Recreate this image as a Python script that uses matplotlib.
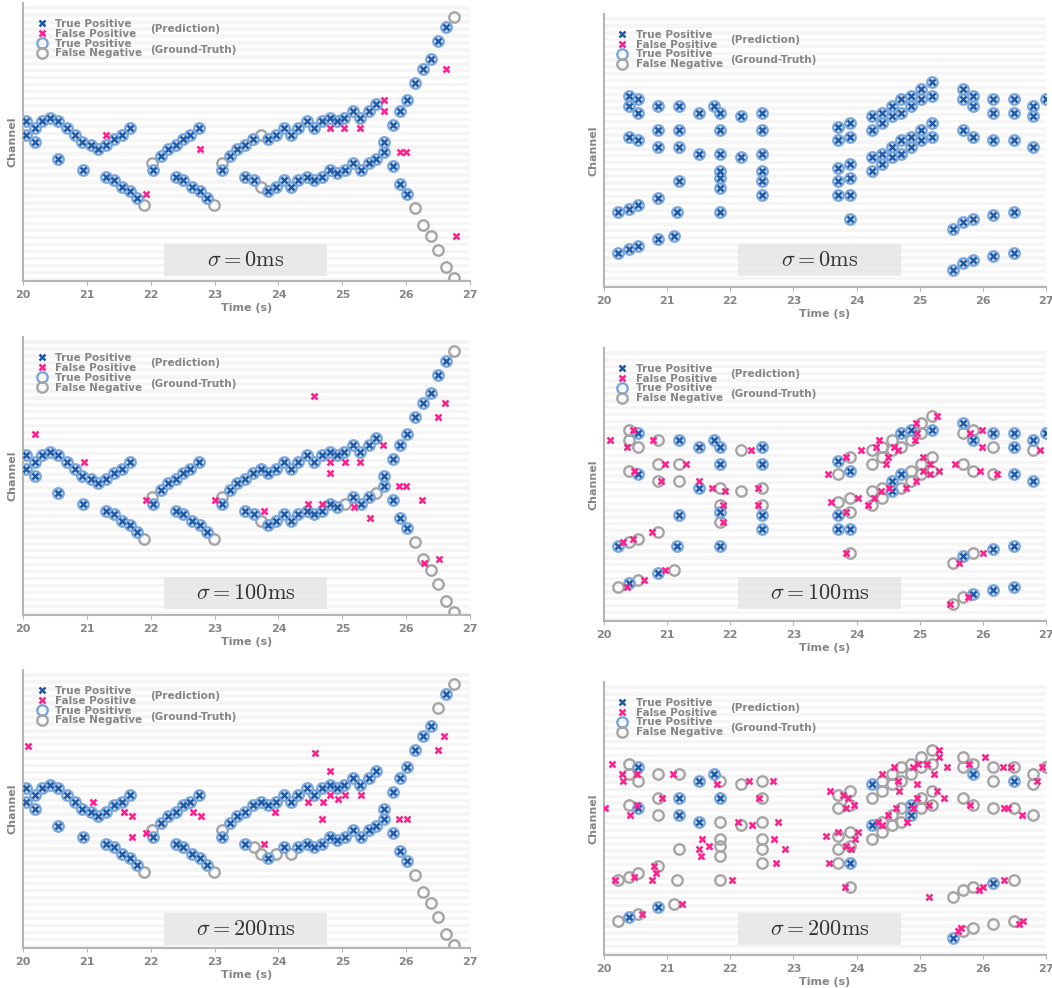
import matplotlib
matplotlib.use('Agg')
import matplotlib.pyplot as plt
from matplotlib.lines import Line2D
from matplotlib.patches import Rectangle
import numpy as np

plt.rcParams['mathtext.fontset'] = 'cm'

sigmas = [0, 100, 200]

# ---- left column: ground-truth notes (time s, channel) ----
left_gt = [
    (20.05, 46), (20.05, 42), (20.18, 44), (20.18, 40), (20.30, 46), (20.43, 47), (20.55, 46),
    (20.69, 44), (20.82, 42), (20.93, 40), (21.06, 39), (21.18, 38), (21.30, 39), (21.42, 41),
    (21.55, 42), (21.67, 44), (20.55, 35), (20.94, 32),
    (21.30, 30), (21.42, 29), (21.55, 27), (21.67, 26), (21.79, 24), (21.90, 22),
    (22.02, 34), (22.04, 32), (22.16, 36), (22.27, 38), (22.39, 39), (22.50, 41), (22.62, 42), (22.75, 44),
    (22.39, 30), (22.51, 29), (22.64, 27), (22.77, 26), (22.88, 24), (22.99, 22),
    (23.11, 34), (23.12, 32), (23.24, 36), (23.35, 38), (23.47, 39), (23.60, 41), (23.72, 42),
    (23.84, 41), (23.96, 42), (24.08, 44), (24.20, 42), (24.31, 44), (24.44, 46), (24.56, 44),
    (24.68, 46), (24.80, 47), (24.91, 46), (25.02, 47), (25.16, 49), (25.28, 47), (25.41, 49), (25.53, 51),
    (23.47, 30), (23.61, 29), (23.72, 27), (23.84, 26), (23.96, 27), (24.08, 29), (24.20, 27),
    (24.31, 29), (24.44, 30), (24.56, 29), (24.68, 30), (24.80, 32), (24.92, 31), (25.04, 32),
    (25.16, 34), (25.29, 32), (25.41, 34), (25.53, 35), (25.66, 37), (25.66, 40),
    (25.79, 45), (25.90, 49), (26.01, 52), (26.14, 57), (26.26, 61), (26.39, 64), (26.50, 69),
    (26.63, 73), (26.75, 76),
    (25.79, 33), (25.90, 28), (26.02, 25), (26.14, 21), (26.26, 16), (26.39, 13), (26.50, 9),
    (26.63, 4), (26.75, 1),
]

left_tail_fn = [(26.14, 21), (26.26, 16), (26.39, 13), (26.50, 9), (26.63, 4), (26.75, 1), (26.75, 76)]
left_fn = {
    0: [(21.90, 22), (22.02, 34), (22.99, 22), (23.11, 34), (23.72, 42), (23.72, 27)] + left_tail_fn,
    100: [(21.90, 22), (22.02, 34), (22.99, 22), (23.11, 34), (23.72, 27), (25.04, 32),
          (25.53, 35)] + left_tail_fn,
    200: [(21.90, 22), (22.02, 34), (22.99, 22), (23.11, 34), (23.61, 29), (23.72, 27),
          (23.96, 27), (24.20, 27), (26.50, 69)] + left_tail_fn,
}

left_fp = {
    0: [(21.30, 42), (21.92, 25), (22.77, 38), (24.80, 44), (25.02, 44), (25.28, 44),
        (25.65, 52), (25.65, 49), (25.90, 37), (26.00, 37), (26.63, 61), (26.78, 13)],
    100: [(20.19, 52), (20.95, 44), (21.92, 33), (23.00, 33), (23.77, 30), (24.55, 63),
          (24.47, 32), (24.68, 32), (24.81, 44), (24.81, 41), (25.04, 44), (25.28, 44),
          (25.19, 31), (25.43, 28), (25.64, 49), (25.89, 37), (26.00, 37), (26.25, 33),
          (26.28, 15), (26.52, 16), (26.50, 57), (26.61, 61)],
    200: [(20.07, 58), (21.09, 42), (21.58, 39), (21.70, 38), (21.70, 32), (21.92, 33),
          (22.66, 39), (22.78, 38), (23.77, 30), (23.95, 39), (24.57, 56), (24.81, 51),
          (24.46, 42), (24.69, 42), (24.68, 37), (24.81, 44), (24.93, 43), (25.04, 44),
          (25.29, 44), (25.89, 37), (26.02, 37), (26.50, 57), (26.59, 61)],
}

# ---- right column: ground-truth notes ----
right_gt = [
    (20.23, 22), (20.23, 10),
    (20.39, 56), (20.39, 53), (20.39, 44), (20.39, 23), (20.39, 11),
    (20.54, 55), (20.54, 51), (20.54, 43), (20.54, 24), (20.54, 12),
    (20.86, 53), (20.86, 46), (20.86, 41), (20.86, 26), (20.86, 14),
    (21.11, 15), (21.15, 22),
    (21.19, 53), (21.19, 46), (21.19, 41), (21.19, 31),
    (21.51, 51), (21.51, 39), (21.74, 53),
    (21.83, 51), (21.83, 46), (21.83, 39), (21.83, 34), (21.83, 32), (21.83, 29), (21.83, 22),
    (22.17, 50), (22.17, 38),
    (22.51, 51), (22.51, 46), (22.51, 39), (22.51, 34), (22.51, 31), (22.51, 27),
    (23.70, 47), (23.70, 43), (23.70, 35), (23.70, 31), (23.70, 27),
    (23.89, 48), (23.89, 44), (23.89, 36), (23.89, 32), (23.89, 27), (23.89, 20),
    (24.24, 50), (24.24, 46), (24.24, 38), (24.24, 34),
    (24.40, 51), (24.40, 48), (24.40, 39), (24.40, 36),
    (24.56, 53), (24.56, 50), (24.56, 41), (24.56, 38),
    (24.71, 55), (24.71, 51), (24.71, 43), (24.71, 39),
    (24.87, 56), (24.87, 53), (24.87, 44), (24.87, 41),
    (25.02, 58), (25.02, 55), (25.02, 46), (25.02, 43),
    (25.19, 60), (25.19, 56), (25.19, 48), (25.19, 44),
    (25.53, 17), (25.53, 5),
    (25.69, 58), (25.69, 55), (25.69, 46), (25.69, 19), (25.69, 7),
    (25.85, 56), (25.85, 53), (25.85, 44), (25.85, 20), (25.85, 8),
    (26.16, 55), (26.16, 51), (26.16, 43), (26.16, 21), (26.16, 9),
    (26.49, 55), (26.49, 51), (26.49, 43), (26.49, 22), (26.49, 10),
    (26.80, 53), (26.80, 50), (26.80, 41), (27.00, 55),
]

right_tp = {
    0: right_gt,
    100: [(20.23, 22), (20.39, 11), (20.54, 55), (20.54, 43), (20.86, 14), (21.15, 22),
          (21.19, 53), (21.19, 31), (21.51, 51), (21.51, 39), (21.74, 53), (21.83, 51),
          (21.83, 46), (21.83, 32), (21.83, 22), (22.51, 51), (22.51, 46), (22.51, 31),
          (22.51, 27), (23.70, 47), (23.70, 31), (23.70, 27), (23.89, 44), (23.89, 27),
          (24.56, 41), (24.56, 38), (24.71, 55), (24.71, 43), (24.87, 56), (25.19, 56),
          (25.69, 58), (25.69, 19), (25.85, 53), (25.85, 8), (26.16, 55), (26.16, 21),
          (26.16, 9), (26.49, 55), (26.49, 51), (26.49, 43), (26.49, 22), (26.49, 10),
          (26.80, 53), (26.80, 41), (27.00, 55)],
    200: [(20.54, 55), (20.54, 43), (20.39, 11), (20.86, 14), (21.19, 46), (21.19, 41),
          (21.51, 51), (21.51, 39), (21.74, 53), (21.83, 46), (23.89, 27), (24.24, 50),
          (24.24, 38), (24.87, 44), (24.87, 41), (25.85, 53), (26.16, 21), (26.49, 51),
          (25.53, 5)],
}

right_fp = {
    0: [],
    100: [(20.09, 53), (20.46, 56), (20.37, 51), (20.78, 53), (20.96, 46), (20.91, 41),
          (21.30, 46), (21.51, 41), (21.71, 39), (21.91, 38), (21.89, 34), (21.88, 29),
          (22.33, 50), (22.44, 39), (22.44, 34), (20.47, 44), (20.76, 26), (20.46, 24),
          (20.30, 23), (20.63, 12), (20.96, 15), (20.36, 10), (23.83, 48), (23.55, 43),
          (23.59, 35), (24.02, 36), (23.83, 32), (23.83, 20), (24.07, 50), (24.31, 51),
          (24.36, 53), (24.50, 48), (24.47, 46), (24.18, 34), (24.27, 36), (24.38, 38),
          (24.52, 39), (24.60, 51), (24.66, 50), (24.78, 39), (24.94, 41), (24.93, 53),
          (24.94, 58), (24.95, 55), (25.05, 48), (25.16, 46), (25.05, 44), (25.16, 43),
          (25.31, 44), (25.27, 60), (25.56, 46), (25.80, 55), (25.98, 56), (25.96, 44),
          (25.98, 51), (26.22, 43), (26.91, 50), (25.63, 17), (26.00, 20), (25.76, 7),
          (25.48, 5)],
    200: [(20.13, 56), (20.29, 53), (20.30, 51), (20.53, 53), (21.10, 53), (20.02, 43),
          (20.52, 44), (20.42, 41), (20.92, 46), (21.79, 50), (22.30, 51), (22.68, 51),
          (22.46, 46), (22.13, 39), (22.34, 38), (22.75, 39), (21.56, 34), (21.66, 32),
          (21.51, 31), (21.53, 29), (22.70, 34), (22.87, 31), (22.73, 27), (20.80, 26),
          (20.83, 24), (20.76, 22), (20.17, 22), (20.47, 23), (22.02, 22), (20.60, 12),
          (21.23, 15), (23.58, 48), (23.78, 47), (23.86, 46), (23.96, 44), (23.84, 43),
          (23.52, 35), (23.70, 36), (24.02, 36), (23.98, 34), (23.84, 32), (23.91, 31),
          (23.56, 27), (23.81, 20), (24.41, 53), (24.60, 55), (24.65, 51), (24.67, 48),
          (24.96, 50), (24.89, 55), (24.98, 56), (25.12, 56), (25.23, 53), (25.31, 60),
          (25.30, 58), (25.27, 48), (25.44, 55), (25.39, 46), (25.14, 44), (24.96, 46),
          (24.90, 43), (24.62, 43), (24.50, 41), (24.34, 39), (24.41, 38), (24.80, 39),
          (25.15, 17), (25.78, 56), (26.03, 58), (26.32, 55), (26.44, 55), (25.80, 44),
          (26.33, 43), (26.40, 43), (26.62, 41), (26.85, 51), (26.94, 55), (26.34, 22),
          (26.00, 20), (25.94, 19), (25.60, 7), (25.65, 8), (26.58, 9), (26.64, 10)],
}

# colours
c_tp_x = '#1f5aa6'
c_fp_x = '#ff1f8e'
c_tp_o = '#7aa6da'
c_fn_o = '#a5a5a5'
c_txt = '#858585'

fig = plt.figure(figsize=(10.52, 9.88), dpi=100)

left_pos = [(0.0219, 0.7156), (0.0219, 0.3775), (0.0219, 0.0405)]
right_pos = [(0.5741, 0.7095), (0.5741, 0.3715), (0.5741, 0.0334)]
box_y = [0.7206, 0.3836, 0.0435]


def split_gt(gt, tp_list=None, fn_list=None):
    tp, fn = [], []
    for p in gt:
        if fn_list is not None:
            (fn if p in fn_list else tp).append(p)
        else:
            (tp if p in tp_list else fn).append(p)
    return tp, fn


def draw_panel(ax, tp, fn, fp, sigma):
    ax.set_xlim(20, 27)
    ax.set_ylim(0, 80)
    for c in range(0, 80, 2):
        ax.axhspan(c, c + 1, color='#f5f5f5', lw=0, zorder=0)

    if fn:
        t, c = zip(*fn)
        ax.plot(t, c, 'o', ms=7.5, mfc='none', mec=c_fn_o, mew=1.7, ls='none', zorder=2)
    if tp:
        t, c = zip(*tp)
        ax.plot(t, c, 'o', ms=7.5, mfc=(0.78, 0.86, 0.95, 0.5), mec=c_tp_o, mew=1.7, ls='none', zorder=2)
        ax.plot(t, c, 'x', ms=4, mec=c_tp_x, mew=1.8, ls='none', zorder=3)
    if fp:
        t, c = zip(*fp)
        ax.plot(t, c, 'x', ms=4, mec=c_fp_x, mew=1.8, ls='none', zorder=3)

    for s in ['top', 'right']:
        ax.spines[s].set_visible(False)
    for s in ['left', 'bottom']:
        ax.spines[s].set_color('#b5b5b5')
        ax.spines[s].set_linewidth(1.5)
    ax.set_yticks([])
    ax.set_xticks(range(20, 28))
    ax.tick_params(axis='x', colors='#b5b5b5', labelcolor=c_txt, labelsize=8, length=3)
    for lab in ax.get_xticklabels():
        lab.set_fontweight('bold')
    ax.set_xlabel('Time (s)', color=c_txt, fontsize=8, fontweight='bold', labelpad=2)
    ax.set_ylabel('Channel', color=c_txt, fontsize=8, fontweight='bold', labelpad=4)

    handles = [
        Line2D([], [], ls='none', marker='x', ms=4, mec=c_tp_x, mew=1.8),
        Line2D([], [], ls='none', marker='x', ms=4, mec=c_fp_x, mew=1.8),
        Line2D([], [], ls='none', marker='o', ms=7.5, mfc='none', mec=c_tp_o, mew=1.7),
        Line2D([], [], ls='none', marker='o', ms=7.5, mfc='none', mec=c_fn_o, mew=1.7),
    ]
    labels = ['True Positive', 'False Positive', 'True Positive', 'False Negative']
    ax.legend(handles, labels, loc='upper left', bbox_to_anchor=(0.03, 0.942), frameon=False,
              prop={'size': 7.5, 'weight': 'bold'}, labelcolor=c_txt, labelspacing=-0.02,
              handlelength=1.0, handletextpad=0.8, borderpad=0, borderaxespad=0)
    ax.text(0.285, 0.905, '(Prediction)', transform=ax.transAxes, color=c_txt,
            fontsize=7.5, fontweight='bold', va='center')
    ax.text(0.285, 0.832, '(Ground-Truth)', transform=ax.transAxes, color=c_txt,
            fontsize=7.5, fontweight='bold', va='center')


for i, s in enumerate(sigmas):
    # left column
    ax = fig.add_axes([left_pos[i][0], left_pos[i][1], 0.4249, 0.2814])
    tp, fn = split_gt(left_gt, fn_list=left_fn[s])
    draw_panel(ax, tp, fn, left_fp[s], s)

    # right column
    ax = fig.add_axes([right_pos[i][0], right_pos[i][1], 0.4202, 0.2763])
    tp, fn = split_gt(right_gt, tp_list=right_tp[s])
    draw_panel(ax, tp, fn, right_fp[s], s)

    # sigma boxes
    for bx in [0.1559, 0.7015]:
        fig.patches.append(Rectangle((bx, box_y[i]), 0.1549, 0.0324, transform=fig.transFigure,
                                     facecolor='#e6e6e6', alpha=0.85, edgecolor='none', zorder=5))
        fig.text(bx + 0.1549 / 2, box_y[i] + 0.0324 / 2, r'$\sigma=%d\mathrm{ms}$' % s,
                 ha='center', va='center', fontsize=16, color='#333333', zorder=6)

fig.savefig('out.png', dpi=100)
